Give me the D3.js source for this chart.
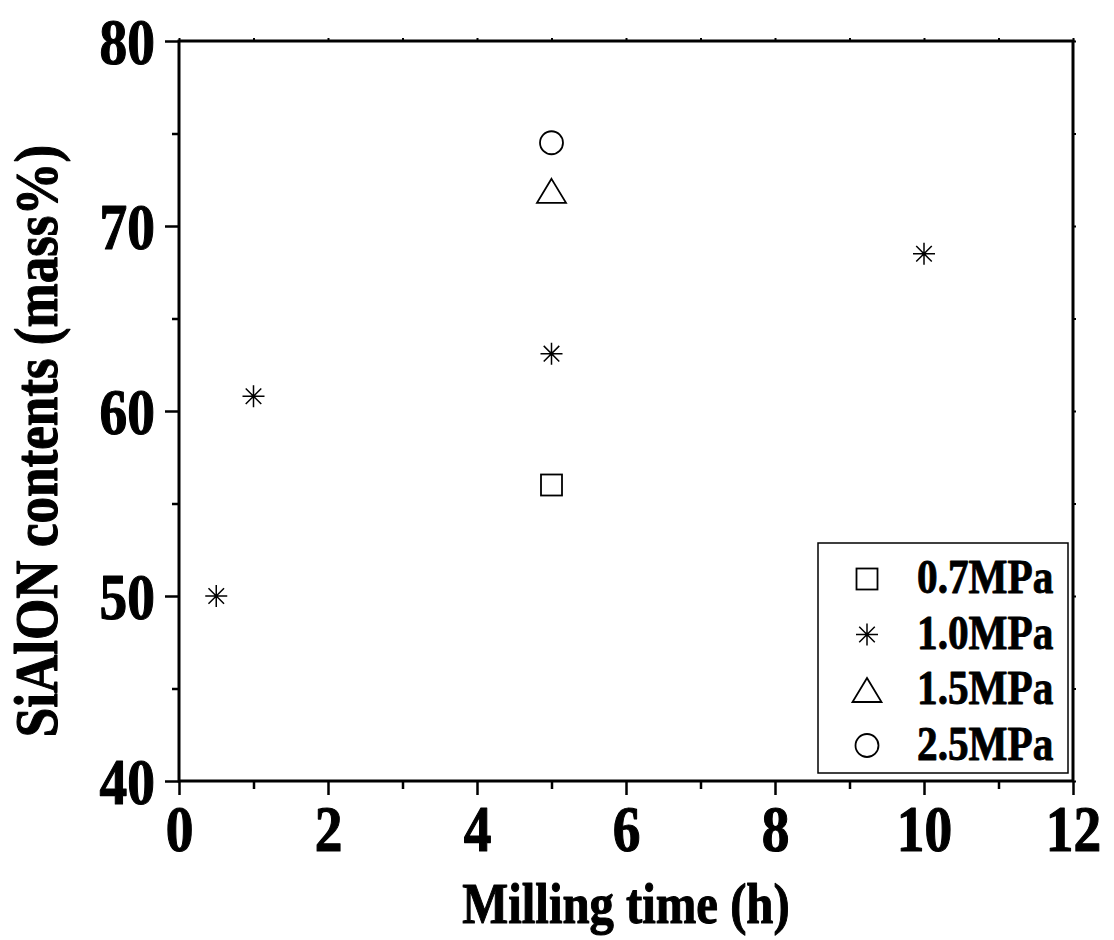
<!DOCTYPE html>
<html>
<head>
<meta charset="utf-8">
<script src="https://cdn.jsdelivr.net/npm/d3@7"></script>
<style>
  html, body { margin: 0; padding: 0; background: #fff; }
  svg { display: block; }
</style>
</head>
<body>
<svg id="chart" width="1114" height="940"></svg>
<script>
// ---------------- data ----------------
const seriesNames = ["0.7MPa", "1.0MPa", "1.5MPa", "2.5MPa"];
const seriesShapes = ["square", "asterisk", "triangle", "circle"];
const time07 = [5];
const sialon07 = [56.0];
const time10 = [0.5, 1, 5, 10];
const sialon10 = [50.0, 60.8, 63.1, 68.5];
const time15 = [5];
const sialon15 = [71.9];
const time25 = [5];
const sialon25 = [74.5];
const xTickValues = [0, 2, 4, 6, 8, 10, 12];
const xMinorValues = [1, 3, 5, 7, 9, 11];
const yTickValues = [40, 50, 60, 70, 80];
const yMinorValues = [45, 55, 65, 75];
const xTitle = "Milling time (h)";
const yTitle = "SiAlON contents (mass%)";

const series = [
  { name: seriesNames[0], shape: seriesShapes[0], xs: time07, ys: sialon07 },
  { name: seriesNames[1], shape: seriesShapes[1], xs: time10, ys: sialon10 },
  { name: seriesNames[2], shape: seriesShapes[2], xs: time15, ys: sialon15 },
  { name: seriesNames[3], shape: seriesShapes[3], xs: time25, ys: sialon25 }
];

// ---------------- layout ----------------
const L = 179, R = 1073, T = 41, B = 781;
const FONT = "'Liberation Serif', 'Times New Roman', serif";
const svg = d3.select("#chart");

const x = d3.scaleLinear().domain([0, 12]).range([L, R]);
const y = d3.scaleLinear().domain([40, 80]).range([B, T]);

const SX = 0.84; // horizontal compression of glyphs

function heavy(sel, sw) {
  sel.attr("font-family", FONT).attr("font-weight", "bold").attr("fill", "#000")
    .attr("stroke", "#000").attr("stroke-width", sw).attr("stroke-linejoin", "round");
}

// bottom axis (major)
const gx = svg.append("g").attr("transform", `translate(0,${B})`)
  .call(d3.axisBottom(x).tickValues(xTickValues).tickSize(14).tickPadding(9).tickFormat(d3.format("d")));
gx.select(".domain").remove();
gx.selectAll("line").attr("stroke", "#000").attr("stroke-width", 2.5);
heavy(gx.selectAll("text"), 1.2);
gx.selectAll("text").attr("font-size", 66).attr("transform", `scale(${SX},1)`);
// bottom minor
const gxm = svg.append("g").attr("transform", `translate(0,${B})`)
  .call(d3.axisBottom(x).tickValues(xMinorValues).tickSize(8).tickFormat(""));
gxm.select(".domain").remove();
gxm.selectAll("line").attr("stroke", "#000").attr("stroke-width", 2.5);

// left axis (major)
const gy = svg.append("g").attr("transform", `translate(${L},0)`)
  .call(d3.axisLeft(y).tickValues(yTickValues).tickSize(14).tickPadding(10).tickFormat(d3.format("d")));
gy.select(".domain").remove();
gy.selectAll("line").attr("stroke", "#000").attr("stroke-width", 2.5);
heavy(gy.selectAll("text"), 1.2);
gy.selectAll("text").attr("font-size", 66)
  .attr("x", -24 / SX).attr("dy", "0.34em")
  .attr("transform", `scale(${SX},1)`);
const gym = svg.append("g").attr("transform", `translate(${L},0)`)
  .call(d3.axisLeft(y).tickValues(yMinorValues).tickSize(7).tickFormat(""));
gym.select(".domain").remove();
gym.selectAll("line").attr("stroke", "#000").attr("stroke-width", 2.5);

// top & right tiny ticks
const gt = svg.append("g").attr("transform", `translate(0,${T})`)
  .call(d3.axisTop(x).tickValues(xTickValues.concat(xMinorValues)).tickSize(3).tickFormat(""));
gt.select(".domain").remove();
gt.selectAll("line").attr("stroke", "#000").attr("stroke-width", 2);
const gr = svg.append("g").attr("transform", `translate(${R},0)`)
  .call(d3.axisRight(y).tickValues(yTickValues.concat(yMinorValues)).tickSize(3).tickFormat(""));
gr.select(".domain").remove();
gr.selectAll("line").attr("stroke", "#000").attr("stroke-width", 2);

// frame
svg.append("rect").attr("x", L).attr("y", T).attr("width", R - L).attr("height", B - T)
  .attr("fill", "none").attr("stroke", "#000").attr("stroke-width", 3);

// axis titles
heavy(svg.append("text").attr("transform", `translate(${(L + R) / 2},923) scale(0.84,1)`)
  .attr("text-anchor", "middle").attr("font-size", 58).text(xTitle), 1.1);
heavy(svg.append("text").attr("transform", `translate(57,441) rotate(-90) scale(0.87,1)`)
  .attr("text-anchor", "middle").attr("font-size", 61).text(yTitle), 1.1);

// ---------------- markers ----------------
function drawMarker(g, shape, cx, cy) {
  const sw = 1.8;
  if (shape === "square") {
    g.append("rect").attr("x", cx - 10.5).attr("y", cy - 10.5).attr("width", 21).attr("height", 21)
      .attr("fill", "none").attr("stroke", "#000").attr("stroke-width", sw);
  } else if (shape === "circle") {
    g.append("circle").attr("cx", cx).attr("cy", cy).attr("r", 11.5)
      .attr("fill", "none").attr("stroke", "#000").attr("stroke-width", sw);
  } else if (shape === "triangle") {
    const w = 29, h = 24;
    g.append("path").attr("d", `M${cx},${cy - h / 2}L${cx + w / 2},${cy + h / 2}L${cx - w / 2},${cy + h / 2}Z`)
      .attr("fill", "none").attr("stroke", "#000").attr("stroke-width", sw);
  } else if (shape === "asterisk") {
    const r = 11, d = r * Math.SQRT1_2;
    g.append("path").attr("d",
      `M${cx - r},${cy}L${cx + r},${cy}M${cx},${cy - r}L${cx},${cy + r}` +
      `M${cx - d},${cy - d}L${cx + d},${cy + d}M${cx - d},${cy + d}L${cx + d},${cy - d}`)
      .attr("fill", "none").attr("stroke", "#000").attr("stroke-width", 1.5);
  }
}

const gp = svg.append("g");
series.forEach(s => {
  s.xs.forEach((xv, i) => drawMarker(gp, s.shape, x(xv), y(s.ys[i])));
});

// ---------------- legend ----------------
const lg = svg.append("g");
lg.append("rect").attr("x", 818).attr("y", 543).attr("width", 250).attr("height", 230)
  .attr("fill", "#fff").attr("stroke", "#000").attr("stroke-width", 1.5);
series.forEach((s, i) => {
  const cy = 579 + i * 55.5;
  drawMarker(lg, s.shape, 867, cy);
  heavy(lg.append("text").attr("transform", `translate(917,${cy + 14}) scale(0.86,1)`)
    .attr("font-size", 48).text(s.name), 0.9);
});
</script>
</body>
</html>
